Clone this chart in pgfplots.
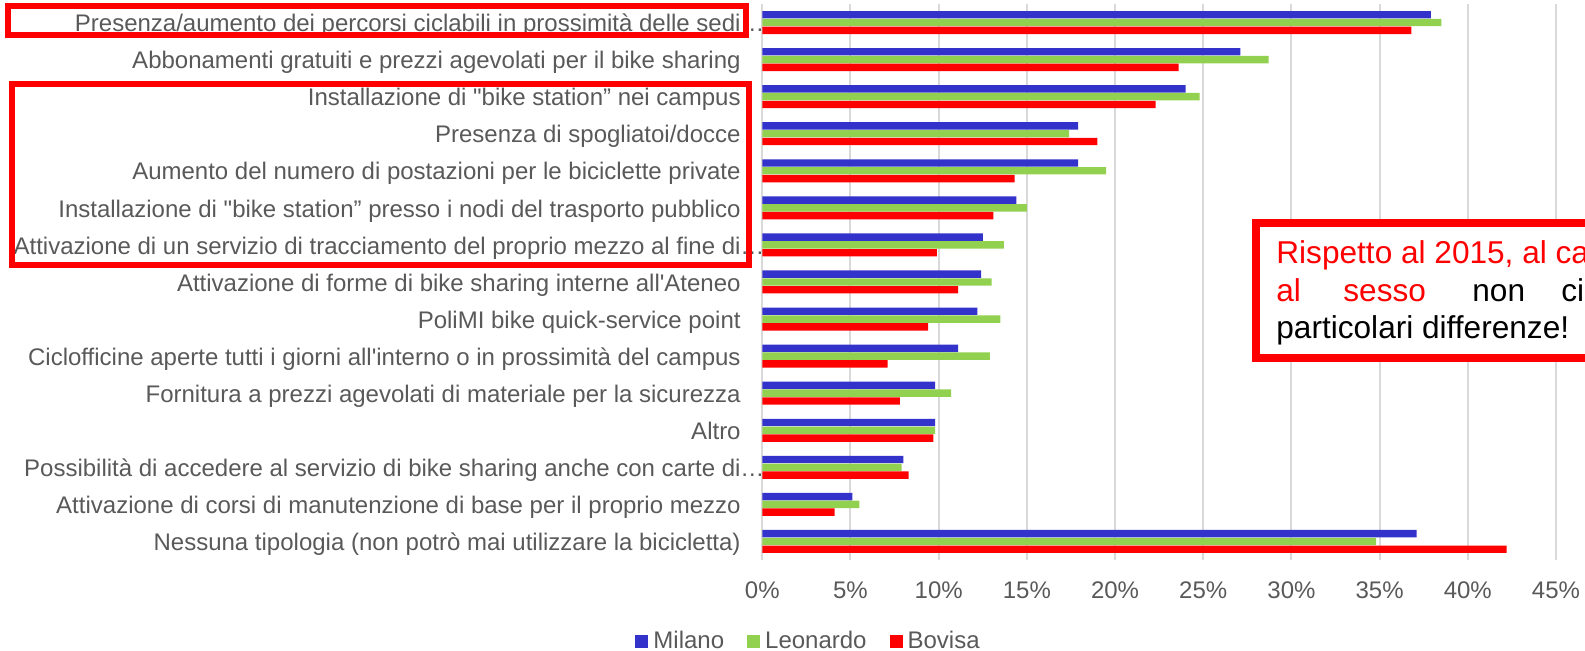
\documentclass[border=0pt]{standalone}
\usepackage{fontspec}
\setmainfont{Liberation Sans}
\usepackage{pgfplots}
\usepackage{pgfplotstable}
\pgfplotsset{compat=1.18}

\definecolor{milano}{HTML}{3333CC}
\definecolor{leonardo}{HTML}{92D050}
\definecolor{bovisa}{HTML}{FF0000}
\definecolor{labelgray}{HTML}{595959}
\definecolor{gridgray}{HTML}{D9D9D9}

% y = 14 is the top row, y = 0 the bottom one
\pgfplotstableread{
y  milano leonardo bovisa
14 37.9   38.5     36.8
13 27.1   28.7     23.6
12 24.0   24.8     22.3
11 17.9   17.4     19.0
10 17.9   19.5     14.3
9  14.4   15.0     13.1
8  12.5   13.7     9.9
7  12.4   13.0     11.1
6  12.2   13.5     9.4
5  11.1   12.9     7.1
4  9.8    10.7     7.8
3  9.8    9.8      9.7
2  8.0    7.9      8.3
1  5.1    5.5      4.1
0  37.1   34.8     42.2
}\bikedata

\newcommand{\lblfont}{\fontsize{12}{14}\selectfont}
\newcommand{\notefont}{\fontsize{15.8}{19}\selectfont}
\newcommand{\trail}{\hspace{0.278em}}
\newcommand{\bs}{\textquotedbl bike station”}

\begin{document}
\begin{tikzpicture}
\useasboundingbox (0,0) rectangle (792.5pt,-325.5pt);
\begin{scope}
\clip (0,0) rectangle (792.5pt,-325.5pt);
\begin{axis}[
    at={(381.15pt,-280pt)}, anchor=south west,
    scale only axis, width=396.85pt, height=278pt,
    xbar, bar width=3.7pt,
    xmin=0, xmax=45, ymin=-0.5, ymax=14.5,
    xtick={0,5,...,45}, ytick={0,...,14},
    yticklabels={
      {Nessuna tipologia (non potrò mai utilizzare la bicicletta)},
      {Attivazione di corsi di manutenzione di base per il proprio mezzo},
      {Possibilità di accedere al servizio di bike sharing anche con carte di\rlap{…}},
      {Altro},
      {Fornitura a prezzi agevolati di materiale per la sicurezza\trail},
      {Ciclofficine aperte tutti i giorni all\textquotesingle interno o in prossimità del campus\trail},
      {PoliMI bike quick-service point},
      {Attivazione di forme di bike sharing interne all\textquotesingle Ateneo},
      {Attivazione di un servizio di tracciamento del proprio mezzo al fine di\rlap{…}},
      {Installazione di \bs{} presso i nodi del trasporto pubblico},
      {Aumento del numero di postazioni per le biciclette private},
      {Presenza di spogliatoi/docce\trail},
      {Installazione di \bs{} nei campus\trail},
      {Abbonamenti gratuiti e prezzi agevolati per il bike sharing},
      {Presenza/aumento dei percorsi ciclabili in prossimità delle sedi\rlap{…}}},
    xticklabel={\pgfmathprintnumber[assume math mode=true]{\tick}\%},
    xmajorgrids, major grid style={gridgray, line width=1pt},
    axis line style={draw=none}, major tick length=0pt,
    tick label style={font=\lblfont, text=labelgray},
    yticklabel style={anchor=east, inner sep=0pt, xshift=-10.65pt, yshift=-2pt,
      text height=0.72em, text depth=0.2em},
    xticklabel style={anchor=north, inner sep=0pt, yshift=-10.5pt},
    legend columns=3,
    legend image code/.code={\fill[#1] (0pt,-3.25pt) rectangle (6.5pt,3.25pt);},
    legend style={at={(0.057,-0.146)}, anchor=center, draw=none, fill=none,
      inner sep=0pt, font=\lblfont, text=labelgray, nodes={inner sep=0pt},
      /tikz/every odd column/.append style={column sep=2.5pt},
      /tikz/every even column/.append style={column sep=11.5pt}},
  ]
  \addplot[draw=none, fill=milano, bar shift=3.9pt] table[x=milano, y=y] {\bikedata};
  \addlegendentry{Milano}
  \addplot[draw=none, fill=leonardo, bar shift=0pt] table[x=leonardo, y=y] {\bikedata};
  \addlegendentry{Leonardo}
  \addplot[draw=none, fill=bovisa, bar shift=-3.9pt] table[x=bovisa, y=y] {\bikedata};
  \addlegendentry{Bovisa}
\end{axis}

% highlight frames on the left
\draw[bovisa, line width=3pt] (4pt,-3.15pt) rectangle (373pt,-17.35pt);
\draw[bovisa, line width=3pt] (6pt,-42pt) rectangle (374.5pt,-132.5pt);

% comment box, cut by the right edge
\draw[bovisa, line width=4pt, fill=white] (627.85pt,-111.65pt) rectangle (860pt,-179pt);
\begin{scope}[every node/.style={anchor=base west, inner sep=0pt, font=\notefont}]
  \node[text=bovisa] at (638pt,-131.65pt) {Rispetto al 2015, al cambiare della sede e in relazione};
  \node[text=bovisa] at (638pt,-150.85pt) {al};
  \node[text=bovisa] at (671.5pt,-150.85pt) {sesso};
  \node[text=black] at (736pt,-150.85pt) {non};
  \node[text=black] at (780.5pt,-150.85pt) {ci sono};
  \node[text=black] at (638pt,-169.15pt) {particolari differenze!};
\end{scope}
\end{scope}
\end{tikzpicture}
\end{document}
